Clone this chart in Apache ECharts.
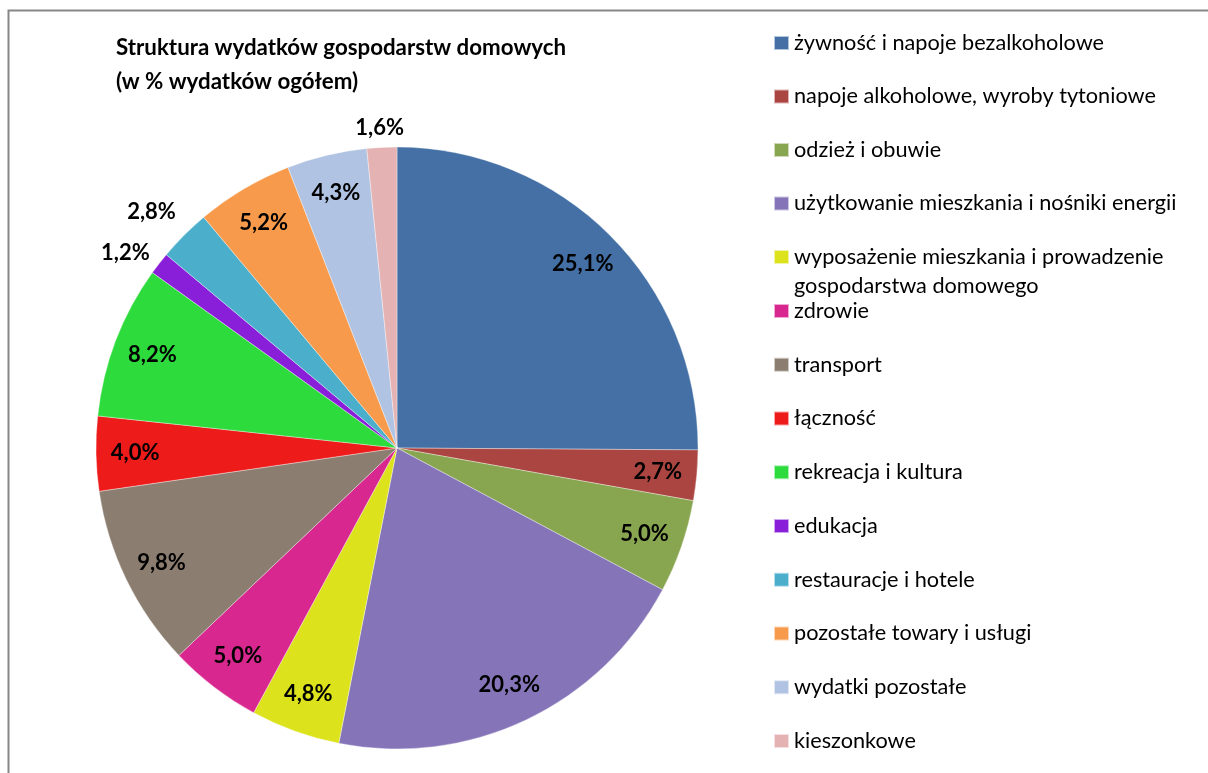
<!DOCTYPE html>
<html>
<head>
<meta charset="utf-8">
<script src="https://cdn.jsdelivr.net/npm/echarts@6/dist/echarts.min.js"></script>
<style>
html,body{margin:0;padding:0;background:#fff;}
#c{width:1208px;height:773px;}
</style>
</head>
<body>
<div id="c"></div>
<script>
const categories = [
  'żywność i napoje bezalkoholowe',
  'napoje alkoholowe, wyroby tytoniowe',
  'odzież i obuwie',
  'użytkowanie mieszkania i nośniki energii',
  'wyposażenie mieszkania i prowadzenie\ngospodarstwa domowego',
  'zdrowie',
  'transport',
  'łączność',
  'rekreacja i kultura',
  'edukacja',
  'restauracje i hotele',
  'pozostałe towary i usługi',
  'wydatki pozostałe',
  'kieszonkowe'
];
const values = [25.1, 2.7, 5.0, 20.3, 4.8, 5.0, 9.8, 4.0, 8.2, 1.2, 2.8, 5.2, 4.3, 1.6];
const colors = ['#4470a6','#aa4541','#88a54f','#8575b8','#dce31c','#d8288f','#8b7e70','#ee1b1b','#2edb3c','#8a1fd9','#4bafcc','#f89a4b','#b1c3e2','#e5b2b3'];
const outsideLabels = ['edukacja','restauracje i hotele','kieszonkowe'];

const FONT = 'Lato, "Liberation Sans", sans-serif';
const cx = 397, cy = 448, R = 301;

// per-item outside label line tuning (layout only)
const outsideTune = {
  'edukacja': {length: 17, length2: -9},
  'restauracje i hotele': {length: 33, length2: -20},
  'kieszonkowe': {length: 19, length2: -28}
};

const fmt = v => v.toFixed(1).replace('.', ',') + '%';

const mainData = categories.map((n, i) => ({name: n, value: values[i], itemStyle: {color: colors[i]}}));
const labelData = categories.map((n, i) => {
  const out = outsideLabels.indexOf(n) >= 0;
  const d = {name: n, value: values[i]};
  if (out) {
    d.label = {position: 'outside'};
    d.labelLine = {show: false, length: outsideTune[n].length, length2: outsideTune[n].length2};
  }
  return d;
});

const chart = echarts.init(document.getElementById('c'), null, {renderer: 'canvas'});
const legendText = {fontFamily: FONT, fontSize: 21.7, color: '#000', lineHeight: 29};
const legendBase = {
  orient: 'vertical', left: 773, padding: 0,
  itemWidth: 15, itemHeight: 14,
  icon: 'rect', selectedMode: false,
  textStyle: legendText
};
chart.setOption({
  animation: false,
  color: colors,
  title: {
    text: 'Struktura wydatków gospodarstw domowych\n(w % wydatków ogółem)',
    left: 116, top: 31,
    padding: 0,
    textStyle: {fontFamily: FONT, fontSize: 22.3, fontWeight: 'bold', color: '#000', lineHeight: 34}
  },
  legend: [
    Object.assign({}, legendBase, {top: 28.5, itemGap: 24.5, data: categories.slice(0, 4)}),
    Object.assign({}, legendBase, {
      top: 213.5, itemGap: 0, data: categories.slice(4, 5),
      formatter: n => '\n' + n
    }),
    Object.assign({}, legendBase, {top: 296.5, itemGap: 24.75, data: categories.slice(5)})
  ],
  graphic: [{
    type: 'rect', silent: true,
    shape: {x: 8.5, y: 10.5, width: 1400, height: 1000},
    style: {fill: 'none', stroke: '#878787', lineWidth: 2}
  }],
  series: [
    {
      type: 'pie', center: [cx, cy], radius: [0, R],
      startAngle: 90, clockwise: true,
      avoidLabelOverlap: false, silent: true,
      label: {show: false}, labelLine: {show: false},
      itemStyle: {borderWidth: 0.6, borderColor: 'rgba(255,255,255,0.6)'},
      data: mainData
    },
    {
      type: 'pie', center: [cx, cy], radius: [R * 0.72, R],
      startAngle: 90, clockwise: true,
      avoidLabelOverlap: false, silent: true,
      itemStyle: {color: 'rgba(0,0,0,0)', borderWidth: 0},
      label: {
        show: true, position: 'inside',
        formatter: p => fmt(p.value),
        fontFamily: FONT, fontSize: 22, fontWeight: 'bold', color: '#000'
      },
      labelLine: {show: false},
      emphasis: {disabled: true},
      data: labelData
    }
  ]
});
</script>
</body>
</html>
